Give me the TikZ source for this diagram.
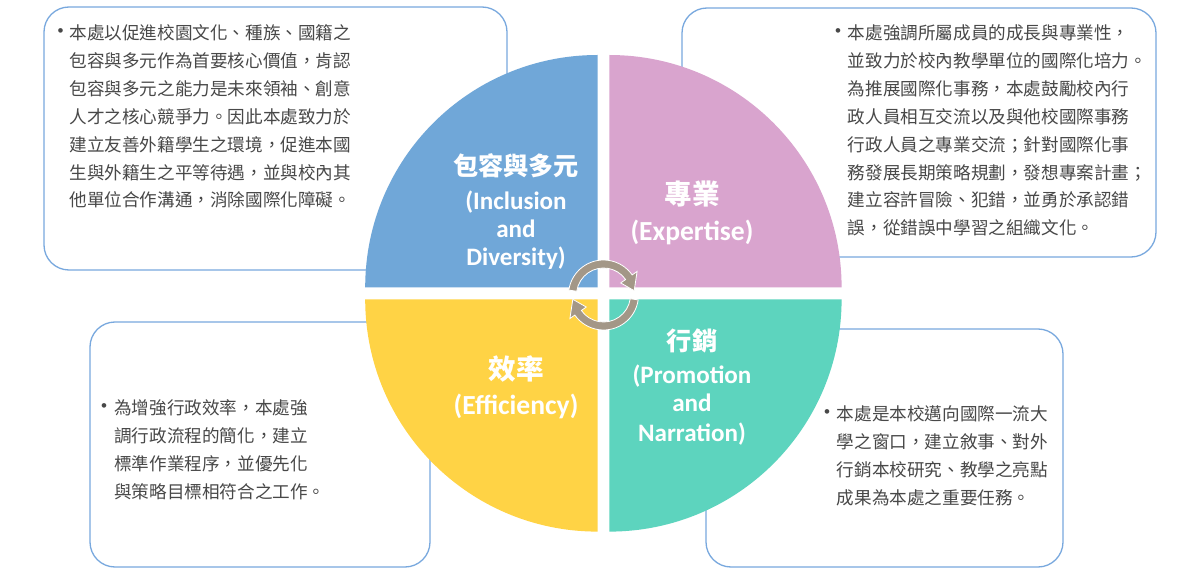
\documentclass[tikz,border=0pt]{standalone}
\usepackage{fontspec}
\newfontfamily\cjk{Noto Sans CJK TC}
\newfontfamily\titlelat{Carlito}
\newfontfamily\bulfont{Liberation Sans}
\definecolor{qblue}{RGB}{112,167,216}
\definecolor{qpink}{RGB}{217,164,206}
\definecolor{qyellow}{RGB}{255,211,69}
\definecolor{qteal}{RGB}{93,212,190}
\definecolor{arrowgray}{RGB}{163,151,135}
\definecolor{boxblue}{RGB}{120,168,222}
\definecolor{bodygray}{RGB}{72,72,72}
\begin{document}
\begin{tikzpicture}[x=1pt,y=-1pt,
  infobox/.style={draw=boxblue, line width=1.3pt, rounded corners=25pt, fill=white},
  body/.style={anchor=base west, inner sep=0pt, align=left, text=bodygray,
    font=\cjk\fontsize{17.6}{27.9}\selectfont},
  bulletmark/.style={inner sep=0pt, text=bodygray, font=\bulfont\fontsize{17}{17}\selectfont},
  cjksmall/.style={anchor=base, inner sep=0pt, text=white, font=\cjk\bfseries\fontsize{25.2}{25.2}\selectfont},
  cjkbig/.style={anchor=base, inner sep=0pt, text=white, font=\cjk\bfseries\fontsize{27.6}{27.6}\selectfont},
  latsmall/.style={anchor=base, inner sep=0pt, text=white, font=\titlelat\bfseries\fontsize{25.1}{25.1}\selectfont},
  latbig/.style={anchor=base, inner sep=0pt, text=white, font=\titlelat\bfseries\fontsize{27.6}{27.6}\selectfont},
  cyclearrow/.style={fill=arrowgray, draw=white, line width=0.8pt}
]
\useasboundingbox (0,0) rectangle (1200,580);
\fill[white] (0,0) rectangle (1200,580);

% text boxes (behind the circle)
\draw[infobox] (44,7) rectangle (507,270);
\draw[infobox] (682,8) rectangle (1156,257);
\draw[infobox] (90,322) rectangle (430,567);
\draw[infobox] (706,329) rectangle (1063,567);

% quadrants
\begin{scope}[shift={(597.5,287.3)}, yscale=-1]
  \fill[qblue] (0,0) -- (180:232.3) arc[start angle=180, end angle=90, radius=232.3] -- cycle;
\end{scope}
\begin{scope}[shift={(609.3,287.3)}, yscale=-1]
  \fill[qpink] (0,0) -- (90:232.3) arc[start angle=90, end angle=0, radius=232.3] -- cycle;
\end{scope}
\begin{scope}[shift={(597.5,299.3)}, yscale=-1]
  \fill[qyellow] (0,0) -- (180:232.3) arc[start angle=180, end angle=270, radius=232.3] -- cycle;
\end{scope}
\begin{scope}[shift={(609.3,299.3)}, yscale=-1]
  \fill[qteal] (0,0) -- (270:232.3) arc[start angle=270, end angle=360, radius=232.3] -- cycle;
\end{scope}

% cycle arrows
\begin{scope}[shift={(603.5,295)}, yscale=-1]
  \filldraw[cyclearrow] (172:35) arc[start angle=172, end angle=35, radius=35]
    -- (35:41) -- (8:31) -- (35:21) -- (35:27)
    arc[start angle=35, end angle=172, radius=27] -- cycle;
  \filldraw[cyclearrow] (-8:35) arc[start angle=-8, end angle=-145, radius=35]
    -- (-145:41) -- (-172:31) -- (-145:21) -- (-145:27)
    arc[start angle=-145, end angle=-8, radius=27] -- cycle;
\end{scope}

% titles
\node[cjksmall] (t1a) at (516,175.1) {包容與多元};
\node[latsmall] (t1b) at (516,209.3) {(Inclusion};
\node[latsmall] (t1c) at (516,237.5) {and};
\node[latsmall] (t1d) at (516,265.9) {Diversity)};

\node[cjkbig] (t2a) at (692,204.8) {專業};
\node[latbig] (t2b) at (692,240.7) {(Expertise)};

\node[cjkbig] (t3a) at (516,379) {效率};
\node[latbig] (t3b) at (516,414.9) {(Efficiency)};

\node[cjksmall] (t4a) at (692,350.4) {行銷};
\node[latsmall] (t4b) at (692,383.6) {(Promotion};
\node[latsmall] (t4c) at (692,411.7) {and};
\node[latsmall] (t4d) at (692,441.1) {Narration)};

% body texts (base anchor = baseline of the last line)
\node[bulletmark] (b1) at (60.7,33) {•};
\node[body] (x1) at (69.3,207.0) {本處以促進校園文化、種族、國籍之\\包容與多元作為首要核心價值，肯認\\包容與多元之能力是未來領袖、創意\\人才之核心競爭力。因此本處致力於\\建立友善外籍學生之環境，促進本國\\生與外籍生之平等待遇，並與校內其\\他單位合作溝通，消除國際化障礙。};

\node[bulletmark] (b2) at (838,33) {•};
\node[body] (x2) at (847.7,234.9) {本處強調所屬成員的成長與專業性，\\並致力於校內教學單位的國際化培力。\\為推展國際化事務，本處鼓勵校內行\\政人員相互交流以及與他校國際事務\\行政人員之專業交流；針對國際化事\\務發展長期策略規劃，發想專案計畫；\\建立容許冒險、犯錯，並勇於承認錯\\誤，從錯誤中學習之組織文化。};

\node[bulletmark] (b3) at (104,408) {•};
\node[body] (x3) at (114,498.3) {為增強行政效率，本處強\\調行政流程的簡化，建立\\標準作業程序，並優先化\\與策略目標相符合之工作。};

\node[bulletmark] (b4) at (827,414) {•};
\node[body] (x4) at (836.7,504.3) {本處是本校邁向國際一流大\\學之窗口，建立敘事、對外\\行銷本校研究、教學之亮點\\成果為本處之重要任務。};
\end{tikzpicture}
\end{document}
